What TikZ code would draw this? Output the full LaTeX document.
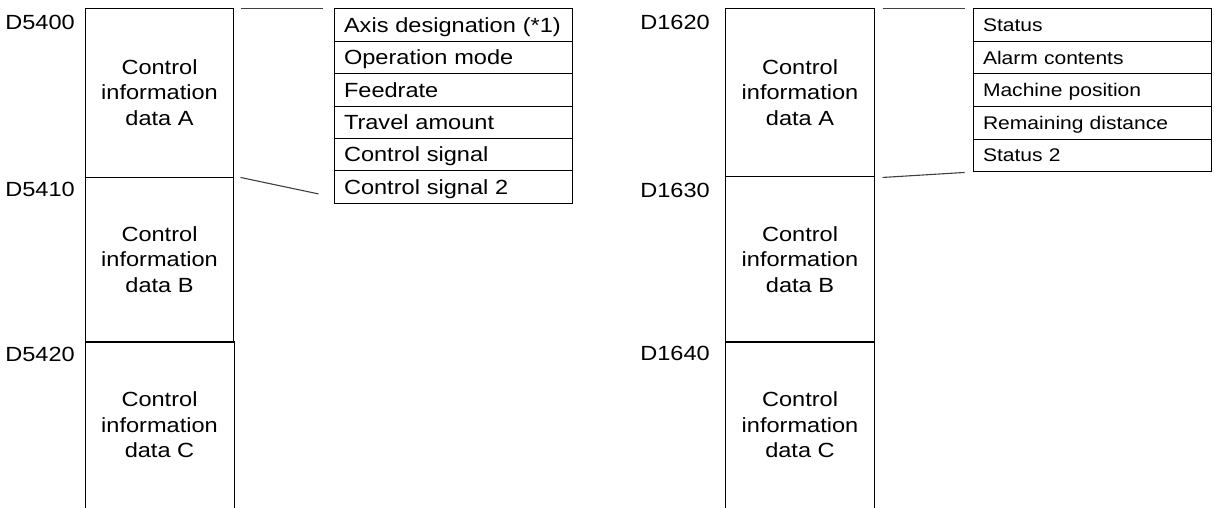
\documentclass[tikz,border=0pt]{standalone}
\usepackage{fontspec}
\setmainfont{Liberation Sans}[FakeStretch=1.15]
\usetikzlibrary{calc}
\tikzset{
  sect/.style={minimum width=148.5pt, inner sep=0pt, align=center,
    font=\fontsize{20.5}{25.5}\selectfont},
  boxline/.style={draw=black, line width=0.9pt},
  addr/.style={anchor=east, inner sep=0pt, text height=14.7pt, text depth=0pt,
    font=\fontsize{20.5}{25.5}\selectfont},
  rowL/.style={draw=black, line width=0.9pt, minimum width=238pt, minimum height=32.43pt,
    text width=218pt, inner xsep=10pt, inner ysep=0pt, align=left,
    text height=14.7pt, text depth=0pt, font=\fontsize{20.5}{24}\selectfont},
  rowR/.style={draw=black, line width=0.9pt, minimum width=238pt, minimum height=32.6pt,
    text width=218pt, inner xsep=10pt, inner ysep=0pt, align=left,
    text height=13.1pt, text depth=0pt, font=\fontsize{18.3}{22}\selectfont},
  conn/.style={draw=black!75, line width=1.1pt}
}
\begin{document}
\begin{tikzpicture}[x=1pt,y=-1pt]
\useasboundingbox (0,0) rectangle (1214,508);

% ---------- left column ----------
\node[sect, boxline, minimum height=169pt] (LA) at (159.5,92.5) {Control\\information\\data A};
\node[sect, boxline, minimum height=165pt] (LB) at (159.5,259.5) {Control\\information\\data B};
\node[sect, minimum height=166pt] (LC) at (159.5,425) {Control\\information\\data C};
\draw[boxline] (LC.south west) -- (LC.north west) -- (LC.north east) -- (LC.south east);

\node[addr] (aL1) at (75,22) {D5400};
\node[addr] (aL2) at (75,189) {D5410};
\node[addr] (aL3) at (75,354) {D5420};

\foreach \t [count=\i] in {Axis designation (*1),Operation mode,Feedrate,Travel amount,Control signal,Control signal 2}{
  \node[rowL] (T\i) at (453,{8.7+32.43*(\i-0.5)}) {\t};
}

\coordinate (l1s) at ($(LA.north east)+(6.3,0.7)$);
\coordinate (l1e) at ($(T1.north west)+(-11,0)$);
\coordinate (l2s) at ($(LA.south east)+(6.3,0)$);
\coordinate (l2e) at ($(T6.south west)+(-15,-9.8)$);
\draw[conn] (l1s) -- (l1e);
\draw[conn] (l2s) -- (l2e);

% ---------- right column ----------
\node[sect, boxline, minimum height=168.7pt] (RA) at (800,92.35) {Control\\information\\data A};
\node[sect, boxline, minimum height=165.3pt] (RB) at (800,259.35) {Control\\information\\data B};
\node[sect, minimum height=166pt] (RC) at (800,425) {Control\\information\\data C};
\draw[boxline] (RC.south west) -- (RC.north west) -- (RC.north east) -- (RC.south east);

\node[addr] (aR1) at (710,22) {D1620};
\node[addr] (aR2) at (710,190.5) {D1630};
\node[addr] (aR3) at (710,353) {D1640};

\foreach \t [count=\i] in {Status,Alarm contents,Machine position,Remaining distance,Status 2}{
  \node[rowR] (S\i) at (1092,{8.7+32.6*(\i-0.5)}) {\t};
}

\coordinate (r1s) at ($(RA.north east)+(8,0.7)$);
\coordinate (r1e) at ($(S1.north west)+(-8,0)$);
\coordinate (r2s) at ($(RA.south east)+(8,0.3)$);
\coordinate (r2e) at ($(S5.south west)+(-8,0.3)$);
\draw[conn] (r1s) -- (r1e);
\draw[conn] (r2s) -- (r2e);
\end{tikzpicture}
\end{document}
